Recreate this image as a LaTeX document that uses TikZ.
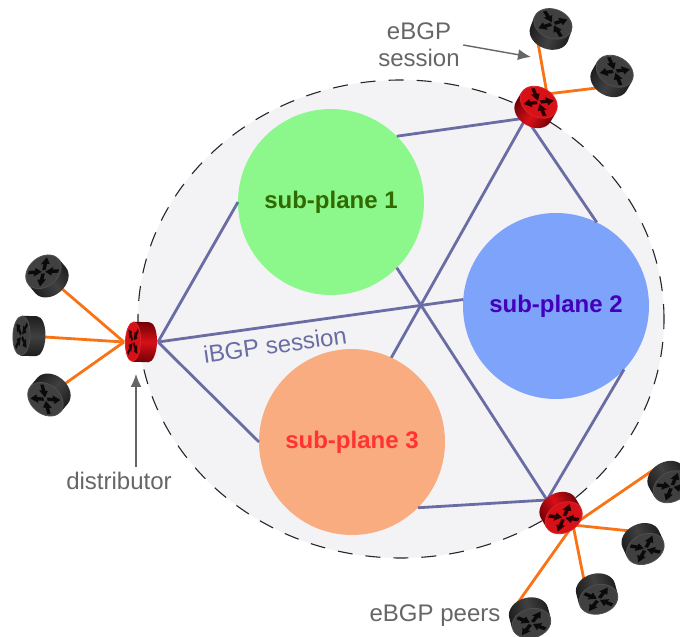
\documentclass[tikz,border=0pt]{standalone}
\usepackage{fontspec}
\setmainfont{Liberation Sans}
\usetikzlibrary{arrows.meta}

\definecolor{ibgpcol}{HTML}{6A6DA3}
\definecolor{ebgpcol}{HTML}{F97316}
\definecolor{labelcol}{HTML}{666666}
\definecolor{areacol}{HTML}{F3F3F6}
\definecolor{reddark}{HTML}{A00008}
\definecolor{redlight}{HTML}{D81018}
\definecolor{greydark}{HTML}{2A2A2A}
\definecolor{greylight}{HTML}{404040}
\definecolor{planeone}{HTML}{8CF78A}
\definecolor{planetwo}{HTML}{7DA3FB}
\definecolor{planethree}{HTML}{F9AC7F}
\definecolor{textone}{HTML}{2F6B00}
\definecolor{texttwo}{HTML}{4400BB}
\definecolor{textthree}{HTML}{FF3333}

\tikzset{
    ibgp/.style={draw=ibgpcol, line width=2.8pt},
    ebgp/.style={draw=ebgpcol, line width=2.8pt},
    pointer/.style={draw=labelcol, line width=1.4pt, -{Latex[length=13pt,width=11pt]}},
    greytext/.style={text=labelcol, font=\fontsize{24}{27}\selectfont, align=center},
    subplane/.style={circle, minimum size=186pt, inner sep=0pt, outer sep=0pt, font=\bfseries\fontsize{24}{27}\selectfont},
    pics/router/.style n args={5}{code={
        % #1 angle, #2 dark, #3 light, #4 half depth of the face, #5 height
        \pgfmathsetmacro{\shadeang}{#1+90}
        \pgfmathsetmacro{\facescale}{#4/20}
        \begin{scope}[rotate=#1]
            \path[left color=#2!70!black, right color=#2!70!black, middle color=#3, shading angle=\shadeang]
                (-20, #5/2) -- (-20, -#5/2) arc[start angle=180, end angle=360, x radius=20, y radius=#4] -- (20, #5/2) -- cycle;
            \draw[fill=#3, draw=#3!92!white, line width=.8pt] (0, #5/2) ellipse (19.6 and #4-.4);
            \begin{scope}[shift={(0, #5/2)}, yscale=\facescale]
                \foreach \ang in {45, 225}
                    \fill[#2!25!black, rotate=\ang] (2, -2) -- (9, -2) -- (9, -5) -- (17, 0) -- (9, 5) -- (9, 2) -- (2, 2) -- cycle;
                \foreach \ang in {135, 315}
                    \fill[#2!25!black, rotate=\ang] (17, -2) -- (10, -2) -- (10, -5) -- (2, 0) -- (10, 5) -- (10, 2) -- (17, 2) -- cycle;
            \end{scope}
        \end{scope}
    }},
}

\begin{document}
\begin{tikzpicture}[x=1pt, y=1pt]
    \useasboundingbox (0, 0) rectangle (680, 637);

    %%dashed area
    \draw[black!85, fill=areacol, line width=1.1pt, dash pattern=on 15pt off 13pt] (401, 318) ellipse (263 and 239);

    %%sub-planes
    \node[subplane, fill=planeone, text=textone] at (331, 435)(sp1){sub-plane 1};
    \node[subplane, fill=planetwo, text=texttwo] at (556, 331)(sp2){sub-plane 2};
    \node[subplane, fill=planethree, text=textthree] at (352, 195)(sp3){sub-plane 3};

    \coordinate (distr) at (141, 295);
    \coordinate (distrin) at (158, 295);
    \coordinate (distrout) at (124, 295);
    \coordinate (top) at (536, 530);
    \coordinate (topin) at (526, 519);
    \coordinate (topout) at (547, 543);
    \coordinate (bot) at (561, 124);
    \coordinate (botin) at (547, 137);
    \coordinate (botout) at (573, 112);

    \coordinate (peera) at (47, 361);
    \coordinate (peerb) at (29, 301);
    \coordinate (peerc) at (49, 242);
    \coordinate (peerd) at (551, 608);
    \coordinate (peere) at (612, 561);
    \coordinate (peerf) at (669, 155);
    \coordinate (peerg) at (643, 93);
    \coordinate (peerh) at (597, 43);
    \coordinate (peeri) at (530, 19);

    %%where the orange lines go behind the peers
    \coordinate (portd) at (537, 600);
    \coordinate (porte) at (605, 550);
    \coordinate (portf) at (662, 173);
    \coordinate (portg) at (640, 105);
    \coordinate (porth) at (586, 47);
    \coordinate (porti) at (512, 26);

    %%ibgp sessions
    \draw[ibgp] (distrin) to (sp1.180);
    \draw[ibgp] (distrin) to (sp2.176);
    \draw[ibgp] (distrin) to (sp3.180);
    \draw[ibgp] (topin) to (sp1.45);
    \draw[ibgp] (topin) to (sp2.64);
    \draw[ibgp] (topin) to (sp3.65);
    \draw[ibgp] (botin) to (sp1.-45);
    \draw[ibgp] (botin) to (sp2.-43);
    \draw[ibgp] (botin) to (sp3.-45);

    %%ebgp sessions
    \draw[ebgp] (distrout) to (peera);
    \draw[ebgp] (distrout) to (peerb);
    \draw[ebgp] (distrout) to (peerc);
    \draw[ebgp] (topout) to (portd);
    \draw[ebgp] (topout) to (porte);
    \draw[ebgp] (botout) to (portf);
    \draw[ebgp] (botout) to (portg);
    \draw[ebgp] (botout) to (porth);
    \draw[ebgp] (botout) to (porti);

    %%routers
    \pic at (distr) {router={88}{reddark}{redlight}{8}{16}};
    \pic at (top) {router={-30}{reddark}{redlight}{15}{11}};
    \pic at (bot) {router={-150}{reddark}{redlight}{15}{11}};
    \pic at (peera) {router={40}{greydark}{greylight}{15}{11}};
    \pic at (peerb) {router={88}{greydark}{greylight}{9}{15}};
    \pic at (peerc) {router={140}{greydark}{greylight}{15}{11}};
    \pic at (peerd) {router={-20}{greydark}{greylight}{15}{11}};
    \pic at (peere) {router={-30}{greydark}{greylight}{15}{11}};
    \pic at (peerf) {router={-150}{greydark}{greylight}{15}{11}};
    \pic at (peerg) {router={-155}{greydark}{greylight}{15}{11}};
    \pic at (peerh) {router={-165}{greydark}{greylight}{15}{11}};
    \pic at (peeri) {router={-165}{greydark}{greylight}{15}{11}};

    %%labels
    \node[greytext] at (419, 592)(session){eBGP\\session};
    \node[greytext] at (119, 156)(distlabel){distributor};
    \node[greytext] at (435, 21)(peers){eBGP peers};
    \node[text=ibgpcol, font=\fontsize{24}{27}\selectfont, rotate=8] at (275, 292)(ibgplabel){iBGP session};

    \coordinate (sessiontip) at (531, 580);
    \coordinate (distbase) at (136, 170);
    \coordinate (disttip) at (136, 263);
    \draw[pointer] (session.east) to (sessiontip);
    \draw[pointer] (distbase) to (disttip);
\end{tikzpicture}
\end{document}
